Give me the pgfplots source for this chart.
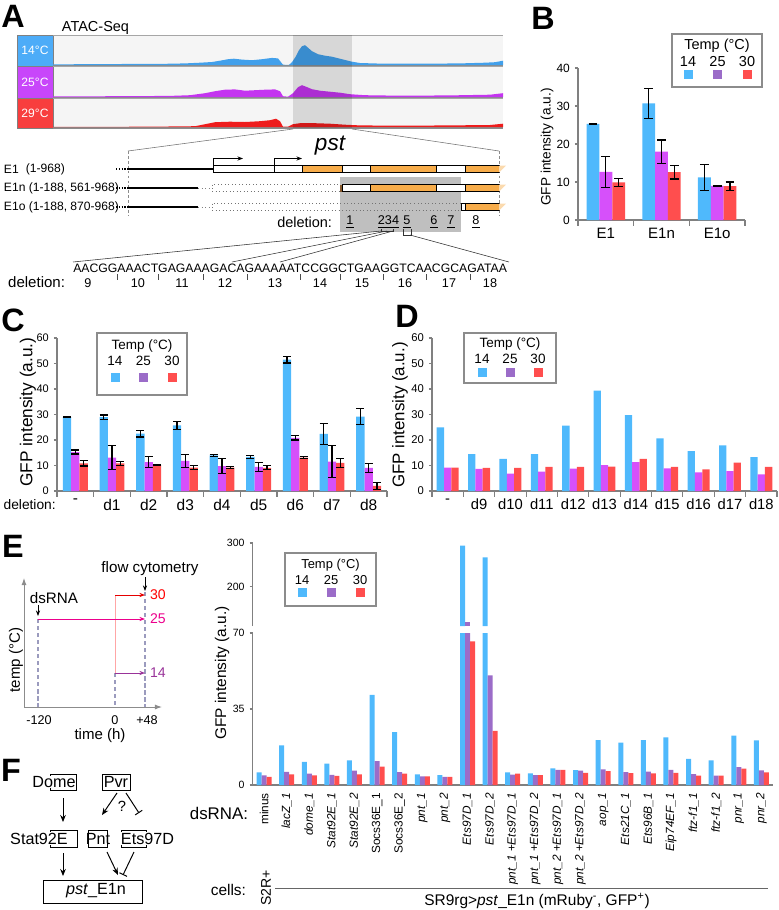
\documentclass[border=0pt]{standalone}
\usepackage{fontspec}
\setmainfont{Liberation Sans}
\usepackage{pgfplots}
\usepackage{pgfplotstable}
\pgfplotsset{compat=1.18}
\usetikzlibrary{arrows.meta}

\definecolor{cblue}{RGB}{79,185,252}
\definecolor{cmag}{RGB}{214,80,250}
\definecolor{cpur}{RGB}{155,108,200}
\definecolor{cred}{RGB}{255,78,78}
\definecolor{corange}{RGB}{247,172,74}
\definecolor{axgray}{RGB}{128,128,128}
\definecolor{tblue}{RGB}{77,172,248}
\definecolor{tmag}{RGB}{200,70,250}
\definecolor{tred}{RGB}{248,62,62}
\definecolor{sblue}{RGB}{66,160,235}
\definecolor{smag}{RGB}{196,52,240}
\definecolor{sred}{RGB}{238,28,28}
\definecolor{dgray}{RGB}{155,155,190}

\newcommand{\FS}[1]{\fontsize{#1}{#1}\selectfont}
\def\legfs{\FS{9.6}}

\pgfplotsset{
  gfp/.style={scale only axis, anchor=south west, ybar, ymin=0,
    axis x line*=bottom, axis y line*=left,
    axis line style={axgray, line width=0.8pt},
    tick style={axgray, line width=0.8pt},
    tick align=outside, major tick length=0.8mm, minor tick length=1.4mm,
    major x tick style={draw=none},
    /pgf/number format/assume math mode=true,
    enlarge x limits=false},
  err/.style={error bars/y dir=both, error bars/y explicit,
    error bars/error bar style={draw=black, line width=0.8pt},
    error bars/error mark options={rotate=90, draw=black, line width=0.8pt, mark size=#1}},
  atac/.style={scale only axis, anchor=south west, width=112.5mm, height=7mm,
    xmin=53, xmax=503, ymin=0, ymax=28, hide axis, clip=false},
}

% panel E data: blue = 14, purple = 25, red = 30 degrees
\pgfplotstableread{
x b p r
0 5.8 4.5 3.8
1 18.3 6.1 4.9
2 10.7 5.2 4.4
3 9.8 4.7 4.2
4 11.4 6.6 4.9
5 41.5 11.0 8.5
6 24.4 6.0 5.2
7 4.9 4.0 4.0
8 4.6 3.8 3.8
9 294 120 66.2
10 267 50.5 24.9
11 5.8 4.8 5.2
12 5.4 4.6 4.6
13 7.7 7.0 7.0
14 6.9 6.6 5.6
15 20.7 7.2 6.4
16 19.5 6.0 5.5
17 20.7 6.2 5.4
18 22.0 7.0 5.6
19 12.0 5.0 4.3
20 11.4 4.3 4.3
21 22.7 8.3 7.6
22 20.6 6.8 5.8
}\tabE

\newcommand{\tleg}[9]{%
  \draw[black!45, line width=0.9pt, fill=white] (#1,#2) rectangle (#3,#4);
  \node[font=\legfs] at ({(#1+#3)/2},#5) {Temp (°C)};
  \node[font=\legfs] at (#8,#6) {14};
  \node[font=\legfs] at ({#8+#9},#6) {25};
  \node[font=\legfs] at ({#8+2*#9},#6) {30};
  \fill[cblue] ({#8-4.5},{#7-4.5}) rectangle ++(9,9);
  \fill[cpur] ({#8+#9-4.5},{#7-4.5}) rectangle ++(9,9);
  \fill[cred] ({#8+2*#9-4.5},{#7-4.5}) rectangle ++(9,9);
}

\begin{document}
\begin{tikzpicture}[x=0.25mm, y=-0.25mm]
\useasboundingbox (0,0) rectangle (778,910);

% ---------- panel letters
\node[font=\FS{23}\bfseries] at (13,16) {A};
\node[font=\FS{23}\bfseries] at (543,18) {B};
\node[font=\FS{23}\bfseries] at (13,320) {C};
\node[font=\FS{23}\bfseries] at (407,316) {D};
\node[font=\FS{23}\bfseries] at (13,546) {E};
\node[font=\FS{23}\bfseries] at (11,770) {F};

% ---------- A: ATAC tracks
\node[font=\FS{10.3}, anchor=west] at (57,27.5) {ATAC-Seq};
\foreach \t/\b/\c/\lab in {35/66/tblue/14, 66/98/tmag/25, 98/128/tred/29} {
  \fill[black!4] (53,\t) rectangle (503,\b);
  \fill[\c] (17,\t) rectangle (53,\b);
  \draw[black!50, line width=0.6pt] (17,\t) rectangle (53,\b);
  \node[white, font=\FS{8.6}] at (35,{(\t+\b)/2}) {\lab°C};
  \draw[black!35, line width=0.5pt] (53,\t) -- (503,\t);
  \draw[black!45, line width=1pt] (53,\b) -- (503,\b);
}
\begin{axis}[atac, at={(13.25mm,-16.3mm)}]
\addplot[fill=sblue, draw=none] coordinates {(53,0.8) (80,1) (120,1.2) (160,1.3) (185,1.8) (200,2.5) (212,3.2) (220,4.5) (228,6) (234,6.5) (242,5.6) (252,5) (262,6) (272,7.3) (278,6.8) (281,3) (283,0.5) (289,0.3) (292,3) (296,9) (299,15) (302,19) (305,20) (308,17.5) (312,14) (318,11) (325,9.5) (332,8.5) (340,6.5) (346,5) (352,3.5) (360,2.2) (380,1.6) (420,1.5) (460,1.8) (485,2.5) (495,3) (503,4.5)} \closedcycle;
\end{axis}
\begin{axis}[atac, at={(13.25mm,-24.3mm)}]
\addplot[fill=smag, draw=none] coordinates {(53,0.8) (120,1) (170,1.3) (190,2) (205,4) (215,6) (225,7.5) (235,7.8) (245,6.5) (255,7) (265,7.5) (275,7.8) (280,6) (283,1) (288,0.5) (293,4) (298,10) (302,12) (306,10.5) (312,8) (320,6.5) (330,5.5) (340,4.5) (350,3) (365,2) (400,1.5) (450,1.8) (490,2.5) (503,4)} \closedcycle;
\end{axis}
\begin{axis}[atac, at={(13.25mm,-31.8mm)}]
\addplot[fill=sred, draw=none] coordinates {(53,0.3) (150,0.5) (195,1) (205,3) (215,5) (230,5.5) (245,5.2) (260,6) (270,7) (276,8.5) (280,6) (283,0.5) (288,0.5) (293,3) (300,4) (315,4) (330,3.5) (345,2.5) (360,1.8) (400,1.5) (450,1.8) (490,2.2) (503,3.5)} \closedcycle;
\end{axis}
\fill[black, opacity=0.12] (293,35) rectangle (352,128);

% ---------- A: gene model
\draw[black!55, line width=0.4pt] (293,129) -- (128,151) (352,129) -- (499,151);
\draw[black!45, line width=0.4pt, dash pattern=on 2pt off 1.5pt] (128,151) -- (128,216) (499,151) -- (499,216);
\fill[black!25] (340,177) rectangle (461,232);
\node[font=\FS{16}\itshape] at (330,146) {pst};
\node[font=\FS{8.6}, anchor=west] at (-1,169) {E1};
\node[font=\FS{8.6}, anchor=west] at (21,169) {(1-968)};
\node[font=\FS{8.6}, anchor=west] at (-1,188) {E1n (1-188, 561-968)};
\node[font=\FS{8.6}, anchor=west] at (-1,207) {E1o (1-188, 870-968)};
\foreach \yc in {169,188,207} {
  \draw[line width=1pt, dash pattern=on 1pt off 1pt] (116,\yc) -- (128,\yc);
}
\draw[line width=1.1pt] (128,169) -- (213,169);
\draw[line width=1.1pt] (128,188) -- (198,188) (128,207) -- (198,207);
\draw[black!50, line width=0.6pt, dotted] (198,188) -- (212,188) (198,207) -- (212,207);
% E1
\foreach \a/\b/\f in {213/274/white, 274/302/white, 302/342/corange, 342/370/white, 370/436/corange, 436/465/white, 465/499/corange}
  \filldraw[fill=\f, draw=black, line width=0.5pt] (\a,165.5) rectangle (\b,172.5);
\draw[line width=0.6pt, -{Stealth[length=4pt,width=3pt]}] (213,165.5) -- (213,158.5) -- (243,158.5);
\draw[line width=0.6pt, -{Stealth[length=4pt,width=3pt]}] (274,165.5) -- (274,158.5) -- (302,158.5);
% E1n
\draw[black!55, line width=0.5pt, dotted] (212,184.5) rectangle (340,191.5);
\fill[brown!70!black] (340,184.5) rectangle (342,191.5);
\foreach \a/\b/\f in {342/370/white, 370/436/corange, 436/465/white, 465/499/corange}
  \filldraw[fill=\f, draw=black, line width=0.5pt] (\a,184.5) rectangle (\b,191.5);
% E1o
\draw[black!55, line width=0.5pt, dotted] (212,203.5) rectangle (461,210.5);
\foreach \a/\b/\f in {461/465/white, 465/499/corange}
  \filldraw[fill=\f, draw=black, line width=0.5pt] (\a,203.5) rectangle (\b,210.5);
\foreach \yc in {169,188,207}
  \fill[corange!45] (499,\yc-3.5) -- (506,\yc-3.5) -- (499,\yc+3.5) -- cycle;
% deletions 1-8
\node[font=\FS{10.3}, anchor=east] at (337,222) {deletion:};
\foreach \xx/\lab in {350/1, 388.5/234, 407/5, 434/6, 451/7, 476/8}
  \node[font=\FS{9}] at (\xx,222) {\underline{\lab}};
\draw[black!80, line width=0.4pt] (381,231) -- (73,262) (387,231) -- (232,262)
  (393,231) -- (280,262) (410,235) -- (509,262);
\draw[black!80, line width=0.4pt] (403,229) -- (403,235) -- (411,235) -- (411,229);
\draw[black!80, line width=0.4pt] (381,229) -- (381,231) -- (393,231) -- (393,229);
% sequence and deletions 9-18
\node[font=\FS{8.7}, anchor=west, inner sep=0pt] at (73,268) {AACGGAAACTGAGAAAGACAGAAAAATCCGGCTGAAGGTCAACGCAGATAA};
\node[font=\FS{10.7}, anchor=east] at (70,282) {deletion:};
\foreach \xx/\lab in {88/9, 138/10, 182/11, 225/12, 275/13, 320/14, 362/15, 405/16, 449/17, 490/18}
  \node[font=\FS{9}] at (\xx,283) {\lab};
\foreach \xx in {117,158,203,247,300,340,383,426,470}
  \draw[black!70, line width=0.4pt] (\xx,274) -- (\xx,280);

% ---------- B
\begin{axis}[gfp, at={(144.5mm,-55mm)}, width=41.75mm, height=38mm,
  xmin=-0.5, xmax=2.5, ymax=40, ytick={0,10,20,30,40},
  xtick={0,1,2}, xticklabels={E1,E1n,E1o}, minor xtick={-0.5,0.5,1.5,2.5},
  bar width=3.2mm,
  yticklabel style={font=\FS{8.5}}, xticklabel style={font=\FS{10.7}}]
\addplot[fill=cblue, draw=none, bar shift=-3.2mm, err=1.1mm] coordinates {(0,25.3) +- (0,0.15) (1,30.7) +- (0,4) (2,11.2) +- (0,3.4)};
\addplot[fill=cmag, draw=none, bar shift=0mm, err=1.1mm] coordinates {(0,12.7) +- (0,4.1) (1,18.0) +- (0,3.05) (2,9.0) +- (0,0.12)};
\addplot[fill=cred, draw=none, bar shift=3.2mm, err=1.1mm] coordinates {(0,9.9) +- (0,1) (1,12.6) +- (0,1.8) (2,8.9) +- (0,1.1)};
\end{axis}
\node[font=\FS{9.7}, rotate=90] at (547,147) {GFP intensity (a.u.)};
\def\legfs{\FS{10.3}}
\tleg{672}{34}{762}{87}{46}{62}{74}{688}{29.5}

% ---------- C
\begin{axis}[gfp, at={(14.25mm,-122.75mm)}, width=82.5mm, height=38.25mm,
  xmin=-0.5, xmax=8.5, ymax=60, ytick={0,10,...,60},
  xtick={0,...,8}, xticklabels={-,d1,d2,d3,d4,d5,d6,d7,d8},
  minor xtick={-0.5,0.5,...,8.5}, bar width=2.075mm,
  yticklabel style={font=\FS{7.8}}, xticklabel style={font=\FS{11}}]
\addplot[fill=cblue, draw=none, bar shift=-2.075mm, err=1mm] coordinates {(0,29) +- (0,0.3) (1,29) +- (0,0.8) (2,22.5) +- (0,1.3) (3,25.7) +- (0,1.6) (4,14) +- (0,0.4) (5,13.4) +- (0,0.6) (6,51.5) +- (0,1.3) (7,22.4) +- (0,4) (8,29.2) +- (0,3)};
\addplot[fill=cmag, draw=none, bar shift=0mm, err=1mm] coordinates {(0,15.3) +- (0,0.8) (1,13.1) +- (0,4.6) (2,11.3) +- (0,2.1) (3,11.8) +- (0,2.5) (4,9.8) +- (0,3) (5,9.5) +- (0,1.8) (6,20.8) +- (0,0.8) (7,11.5) +- (0,6.3) (8,9.1) +- (0,1.8)};
\addplot[fill=cred, draw=none, bar shift=2.075mm, err=1mm] coordinates {(0,10.8) +- (0,1) (1,10.8) +- (0,0.7) (2,10.2) +- (0,0.2) (3,9.2) +- (0,0.7) (4,9.2) +- (0,0.4) (5,9.1) +- (0,0.8) (6,13.1) +- (0,0.5) (7,11) +- (0,1.8) (8,2) +- (0,1.4)};
\end{axis}
\node[font=\FS{12.3}, rotate=90] at (28,412) {GFP intensity (a.u.)};
\node[font=\FS{9.8}, anchor=east, inner sep=0pt] at (56,505) {deletion:};
\def\legfs{\FS{9.6}}
\tleg{97}{333}{187}{395}{346}{361}{377}{115}{28.5}

% ---------- D
\begin{axis}[gfp, at={(108mm,-122.75mm)}, width=86.25mm, height=38.25mm,
  xmin=-0.5, xmax=10.5, ymax=60, ytick={0,10,...,60},
  xtick={0,...,10}, xticklabels={-,d9,d10,d11,d12,d13,d14,d15,d16,d17,d18},
  minor xtick={-0.5,0.5,...,10.5}, bar width=1.825mm,
  yticklabel style={font=\FS{8}}, xticklabel style={font=\FS{10.5}}]
\addplot[fill=cblue, draw=none, bar shift=-1.825mm] coordinates {(0,25) (1,14.5) (2,12.6) (3,14.5) (4,25.6) (5,39.4) (6,29.8) (7,20.6) (8,15.6) (9,17.9) (10,13.3)};
\addplot[fill=cmag, draw=none, bar shift=0mm] coordinates {(0,9.2) (1,8.7) (2,6.8) (3,7.6) (4,8.8) (5,10.2) (6,11.3) (7,8.9) (8,7.3) (9,7.8) (10,6.5)};
\addplot[fill=cred, draw=none, bar shift=1.825mm] coordinates {(0,9.2) (1,9.1) (2,9.1) (3,9.5) (4,9.5) (5,9.6) (6,12.6) (7,9.5) (8,8.5) (9,11.1) (10,9.5)};
\end{axis}
\node[font=\FS{12}, rotate=90] at (400,415) {GFP intensity (a.u.)};
\tleg{464}{333}{556}{383}{344}{359}{372}{482}{28}

% ---------- E: timeline
\draw[black!45, line width=0.6pt, -{Latex[length=5pt,width=3.5pt]}] (24,707) -- (24,578);
\draw[black!45, line width=0.6pt, -{Latex[length=5pt,width=3.5pt]}] (24,707) -- (162,707);
\draw[dgray, line width=0.9pt, dash pattern=on 3pt off 2pt] (38,619) -- (38,707) (115,673) -- (115,707) (145,592) -- (145,707);
\draw[red!35, line width=0.4pt] (115,595) -- (115,673);
\draw[red!90!black, line width=0.6pt, -{Stealth[length=4pt,width=3pt]}] (115,595) -- (145,595);
\draw[magenta, line width=0.6pt, -{Stealth[length=4pt,width=3pt]}] (38,619) -- (145,619);
\draw[violet!80, line width=0.6pt, -{Stealth[length=4pt,width=3pt]}] (115,673) -- (145,673);
\node[font=\FS{10}, text=red] at (158,595) {30};
\node[font=\FS{10}, text=magenta] at (158,619) {25};
\node[font=\FS{10}, text=violet!80] at (158,673) {14};
\node[font=\FS{10.8}] at (150,569) {flow cytometry};
\draw[line width=0.6pt, -{Stealth[length=4pt,width=3pt]}] (145,577) -- (145,591);
\node[font=\FS{10.8}] at (54,598) {dsRNA};
\draw[line width=0.6pt, -{Stealth[length=4pt,width=3pt]}] (38,605) -- (38,616);
\node[font=\FS{10.7}, rotate=90] at (16,660) {temp (°C)};
\node[font=\FS{9}] at (39,720) {-120};
\node[font=\FS{9}] at (115,720) {0};
\node[font=\FS{9}] at (147,720) {+48};
\node[font=\FS{10.7}] at (100,736) {time (h)};

% ---------- E: bar chart (broken axis)
\begin{axis}[gfp, at={(63.18mm,-156.5mm)}, width=130mm, height=20.75mm,
  axis x line=none, xmin=-0.5, xmax=22.5, ymin=110, ymax=300, ytick={200,300},
  restrict y to domain=111:1000,
  bar width=1.25mm, yticklabel style={font=\FS{7.5}}]
\addplot[fill=cblue, draw=none, bar shift=-1.25mm] table[x=x, y=b] {\tabE};
\addplot[fill=cpur, draw=none, bar shift=0mm] table[x=x, y=p] {\tabE};
\end{axis}
\begin{axis}[gfp, at={(63.18mm,-196.25mm)}, width=130mm, height=38mm,
  xmin=-0.5, xmax=22.5, ymax=70, ytick={0,35,70}, xtick={0,...,22},
  xticklabels={{minus},{\textit{lacZ\_1}},{\textit{dome\_1}},{\textit{Stat92E\_1}},{\textit{Stat92E\_2}},{Socs36E\_1},{Socs36E\_2},{\textit{pnt\_1}},{\textit{pnt\_2}},{\textit{Ets97D\_1}},{\textit{Ets97D\_2}},{\textit{pnt\_1} +\textit{Ets97D\_1}},{\textit{pnt\_1} +\textit{Ets97D\_2}},{\textit{pnt\_2} +\textit{Ets97D\_1}},{\textit{pnt\_2} +\textit{Ets97D\_2}},{\textit{aop\_1}},{\textit{Ets21C\_1}},{\textit{Ets96B\_1}},{\textit{Eip74EF\_1}},{\textit{ftz-f1\_1}},{\textit{ftz-f1\_2}},{\textit{pnr\_1}},{\textit{pnr\_2}}},
  bar width=1.25mm, yticklabel style={font=\FS{7.5}},
  xticklabel style={font=\FS{8.4}, rotate=90, anchor=east}]
\addplot[fill=cblue, draw=none, bar shift=-1.25mm] table[x=x, y=b] {\tabE};
\addplot[fill=cpur, draw=none, bar shift=0mm] table[x=x, y=p] {\tabE};
\addplot[fill=cred, draw=none, bar shift=1.25mm] table[x=x, y=r] {\tabE};
\end{axis}
\node[font=\FS{11}, rotate=90] at (222,673) {GFP intensity (a.u.)};
\def\legfs{\FS{9.2}}
\tleg{285}{553}{376}{606}{565}{580}{592}{302}{29}
\node[font=\FS{12}, anchor=east] at (253,813) {dsRNA:};
\node[font=\FS{11}, anchor=east] at (251,890) {cells:};
\node[font=\FS{10}, rotate=90] at (266,888) {S2R+};
\draw[black!60, line width=0.6pt] (275,888) -- (768,888);
\node[font=\FS{11}] at (537,901) {SR9rg>\textit{pst}\_E1n (mRuby\textsuperscript{-}, GFP\textsuperscript{+})};

% ---------- F: regulatory diagram
\begin{scope}[line width=0.6pt]
\draw (50,774) rectangle (76,790);
\draw (102,774) rectangle (130,790);
\draw (50,830) rectangle (77,847);
\draw (88,830) rectangle (107,847);
\draw (121,830) rectangle (146,847);
\draw (43,880) rectangle (142,903);
\end{scope}
\node[font=\FS{11.5}, fill=white, inner sep=0.5pt] at (54,782) {Dome};
\node[font=\FS{11.5}] at (116,782) {Pvr};
\node[font=\FS{11.5}, fill=white, inner sep=0.5pt] at (39,838.5) {Stat92E};
\node[font=\FS{11.5}] at (98,838.5) {Pnt};
\node[font=\FS{11.5}, fill=white, inner sep=0.5pt] at (147.5,838.5) {Ets97D};
\node[font=\FS{11.5}] at (96,891) {\textit{pst}\_E1n};
\begin{scope}[line width=0.7pt]
\draw[-{Stealth[length=5pt,width=4pt]}] (63,798) -- (63,822);
\draw[-{Stealth[length=5pt,width=4pt]}] (117,793) -- (102,815);
\draw[-{Bar[width=6pt]}] (126,793) -- (139,813);
\draw[-{Stealth[length=5pt,width=4pt]}] (63,853) -- (63,876);
\draw[-{Stealth[length=5pt,width=4pt]}] (107,852) -- (118,875);
\draw[-{Bar[width=6pt]}] (134,852) -- (123,875);
\end{scope}
\node[font=\FS{10.5}] at (122,806) {?};
\end{tikzpicture}
\end{document}
